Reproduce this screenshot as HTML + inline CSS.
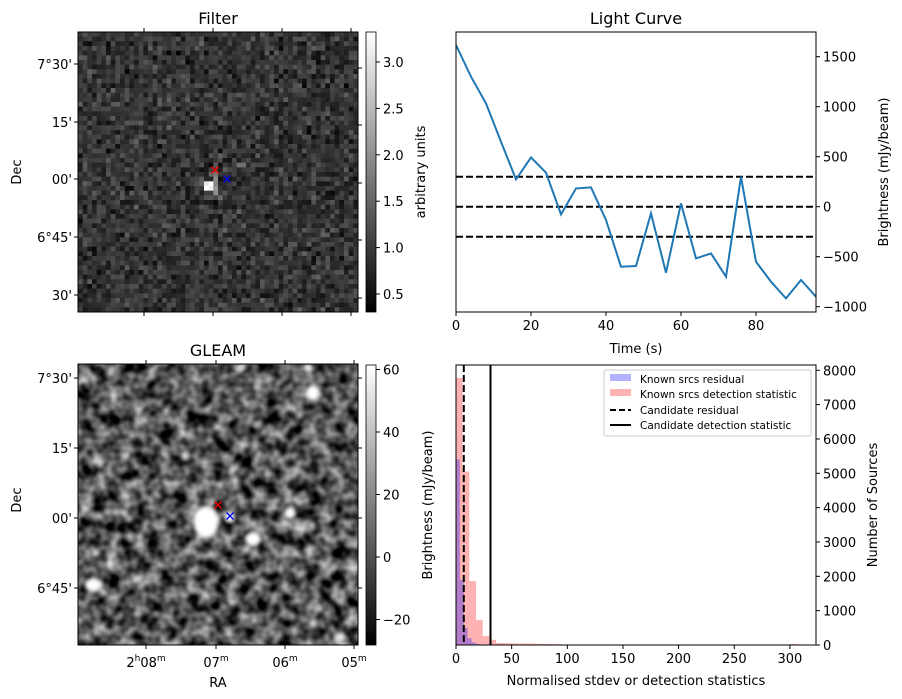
<!DOCTYPE html>
<html><head><meta charset="utf-8"><style>
body{margin:0;background:#fff;}
svg{display:block;font-family:"DejaVu Sans","Liberation Sans",sans-serif;}
</style></head><body>
<svg id="fig" width="902" height="699" viewBox="0 0 902 699" xmlns="http://www.w3.org/2000/svg">
<defs>
<linearGradient id="cbg" x1="0" y1="1" x2="0" y2="0"><stop offset="0" stop-color="#000"/><stop offset="1" stop-color="#fff"/></linearGradient>
<filter id="turb" x="0" y="0" width="100%" height="100%" color-interpolation-filters="sRGB">
<feTurbulence type="fractalNoise" baseFrequency="0.075" numOctaves="2" seed="7"/>
<feColorMatrix type="matrix" values="1.35 0 0 0 -0.34  1.35 0 0 0 -0.34  1.35 0 0 0 -0.34  0 0 0 0 1"/>
</filter>
<filter id="blur2"><feGaussianBlur stdDeviation="2.2"/></filter>
<clipPath id="gclip"><rect x="78" y="364" width="280" height="281"/></clipPath>
</defs>

<!-- Filter panel -->
<text x="218" y="24" font-size="16" text-anchor="middle">Filter</text>
<g id="filterImg"></g>
<rect x="78" y="32" width="280" height="280" fill="none" stroke="#000" stroke-width="1"/>
<g id="filterTicks" font-size="13"></g>
<text transform="translate(21,172) rotate(-90)" font-size="13" text-anchor="middle">Dec</text>
<rect x="366" y="32" width="10" height="280" fill="url(#cbg)" stroke="#000" stroke-width="0.8"/>
<g id="cb1" font-size="13"></g>
<text transform="translate(425,172) rotate(-90)" font-size="13" text-anchor="middle">arbitrary units</text>

<!-- GLEAM panel -->
<text x="218" y="356" font-size="16" text-anchor="middle">GLEAM</text>
<g clip-path="url(#gclip)">
<rect x="78" y="364" width="280" height="281" fill="#444"/>
<rect x="78" y="364" width="280" height="281" filter="url(#turb)"/>
<g filter="url(#blur2)" fill="#fff">
<ellipse cx="206" cy="522" rx="13" ry="16"/>
<ellipse cx="253" cy="539" rx="8" ry="7"/>
<ellipse cx="313" cy="393" rx="7" ry="8"/>
<ellipse cx="93" cy="585" rx="8" ry="7"/>
<ellipse cx="290" cy="513" rx="6" ry="6"/>
<ellipse cx="230" cy="517" rx="5" ry="5"/>
<ellipse cx="185" cy="456" rx="4" ry="5" opacity="0.8"/>
<ellipse cx="100" cy="462" rx="4" ry="5" opacity="0.7"/>
<ellipse cx="220" cy="485" rx="4" ry="4" opacity="0.7"/>
<ellipse cx="340" cy="637" rx="6" ry="5" opacity="0.9"/>
<ellipse cx="312" cy="525" rx="4" ry="4" opacity="0.7"/>
<ellipse cx="240" cy="368" rx="5" ry="4" opacity="0.8"/>
<ellipse cx="308" cy="368" rx="5" ry="4" opacity="0.9"/>
</g>
</g>
<rect x="78" y="364" width="280" height="281" fill="none" stroke="#000" stroke-width="1"/>
<g id="gleamTicks" font-size="13"></g>
<text transform="translate(21,500) rotate(-90)" font-size="13" text-anchor="middle">Dec</text>
<text x="218" y="687" font-size="13" text-anchor="middle">RA</text>
<rect x="366" y="365" width="10" height="280" fill="url(#cbg)" stroke="#000" stroke-width="0.8"/>
<g id="cb2" font-size="13"></g>
<text transform="translate(432,505) rotate(-90)" font-size="13" text-anchor="middle">Brightness (mJy/beam)</text>

<!-- Light curve -->
<text x="636" y="24" font-size="16" text-anchor="middle">Light Curve</text>
<g id="lc"></g>
<rect x="456" y="32" width="360" height="280" fill="none" stroke="#000" stroke-width="1"/>
<text x="636" y="353" font-size="13" text-anchor="middle">Time (s)</text>
<text transform="translate(888,172) rotate(-90)" font-size="13" text-anchor="middle">Brightness (mJy/beam)</text>

<!-- Histogram -->
<g id="hist"></g>
<rect x="456" y="365" width="360" height="280" fill="none" stroke="#000" stroke-width="1"/>
<text x="636" y="685" font-size="13" text-anchor="middle">Normalised stdev or detection statistics</text>
<text transform="translate(877,505) rotate(-90)" font-size="13" text-anchor="middle">Number of Sources</text>
<g font-size="10.5">
<rect x="604" y="370" width="207" height="66" rx="2" fill="#fff" fill-opacity="0.8" stroke="#ccc"/>
<rect x="610" y="374" width="21" height="7" fill="#0000ff" fill-opacity="0.3"/>
<text x="640" y="383">Known srcs residual</text>
<rect x="610" y="389" width="21" height="7" fill="#ff0000" fill-opacity="0.3"/>
<text x="640" y="398">Known srcs detection statistic</text>
<line x1="610" y1="410" x2="631" y2="410" stroke="#000" stroke-width="2" stroke-dasharray="6,3"/>
<text x="640" y="414">Candidate residual</text>
<line x1="610" y1="425" x2="631" y2="425" stroke="#000" stroke-width="2"/>
<text x="640" y="429">Candidate detection statistic</text>
</g>
</svg>
<script>
// ---- Light curve data ----
const lcTimes = [0,4,8,12,16,20,24,28,32,36,40,44,48,52,56,60,64,68,72,76,80,84,88,92,96];
const lcValues = [1617,1300,1033,650,273,493,340,-77,183,193,-133,-600,-593,-67,-660,33,-517,-467,-700,300,-550,-750,-917,-733,-900];
const lcThresholds = [300,0,-300];
const lcXTicks = [0,20,40,60,80];
const lcYTicks = [-1000,-500,0,500,1000,1500];
// ---- Histogram data ----
const redBinWidth = 6;
const redCounts = [7780,5050,1860,730,260,150,60,50,50,45,40,40,35,30,25,20];
const redTailX = [300,306];
const redTailCounts = [30];
const blueBinWidth = 3.5;
const blueCounts = [5400,1900,500,200,80,30,10];
const candidateResidual = 7;
const candidateDetection = 31;
const histXTicks = [0,50,100,150,200,250,300];
const histYTicks = [0,1000,2000,3000,4000,5000,6000,7000,8000];
// ---- Colorbar ticks ----
const cb1Ticks = [0.5,1.0,1.5,2.0,2.5,3.0];
const cb2Ticks = [-20,0,20,40,60];

const NS='http://www.w3.org/2000/svg';
function mk(tag,attrs,parent){const e=document.createElementNS(NS,tag);for(const k in attrs)e.setAttribute(k,attrs[k]);parent.appendChild(e);return e;}

// light curve scales
const lcX=t=>456+t*3.75, lcY=v=>206.7-v*0.1;
const lc=document.getElementById('lc');
lcThresholds.forEach((v,i)=>{const l=mk('line',{x1:456,x2:816,y1:lcY(v),y2:lcY(v),stroke:'#000','stroke-width':2,'stroke-dasharray':'7,3'},lc);

});
const pl=mk('polyline',{points:lcTimes.map((t,i)=>lcX(t)+','+lcY(lcValues[i])).join(' '),fill:'none',stroke:'#1f77b4','stroke-width':2},lc);


lcXTicks.forEach(t=>{mk('line',{x1:lcX(t),x2:lcX(t),y1:312,y2:316,stroke:'#000'},lc);
const tx=mk('text',{x:lcX(t),y:330,'font-size':13,'text-anchor':'middle'},lc);tx.textContent=t;

});
lcYTicks.forEach(v=>{mk('line',{x1:816,x2:820,y1:lcY(v),y2:lcY(v),stroke:'#000'},lc);
const tx=mk('text',{x:823,y:lcY(v)+5,'font-size':13},lc);tx.textContent=v<0?'\u2212'+(-v):v;

});

// histogram scales
const hX=v=>456+v*1.113, hY=c=>645-c*0.03434;
const h=document.getElementById('hist');
redCounts.forEach((c,i)=>{const r=mk('rect',{x:hX(i*redBinWidth),y:hY(c),width:redBinWidth*1.113,height:645-hY(c),fill:'#ff0000','fill-opacity':0.3},h);

});
redTailCounts.forEach((c,i)=>{const r=mk('rect',{x:hX(redTailX[i]),y:hY(c),width:(redTailX[i+1]-redTailX[i])*1.113,height:645-hY(c),fill:'#ff0000','fill-opacity':0.3},h);

});
blueCounts.forEach((c,i)=>{const r=mk('rect',{x:hX(i*blueBinWidth),y:hY(c),width:blueBinWidth*1.113,height:645-hY(c),fill:'#0000ff','fill-opacity':0.3},h);

});
let cl=mk('line',{x1:hX(candidateResidual),x2:hX(candidateResidual),y1:365,y2:645,stroke:'#000','stroke-width':2,'stroke-dasharray':'7,3'},h);


cl=mk('line',{x1:hX(candidateDetection),x2:hX(candidateDetection),y1:365,y2:645,stroke:'#000','stroke-width':2},h);


histXTicks.forEach(t=>{mk('line',{x1:hX(t),x2:hX(t),y1:645,y2:649,stroke:'#000'},h);
const tx=mk('text',{x:hX(t),y:663,'font-size':13,'text-anchor':'middle'},h);tx.textContent=t;

});
histYTicks.forEach(v=>{mk('line',{x1:816,x2:820,y1:hY(v),y2:hY(v),stroke:'#000'},h);
const tx=mk('text',{x:823,y:hY(v)+5,'font-size':13},h);tx.textContent=v;

});

// colorbars
function cbar(id,ticks,y0,slope,v0){const g=document.getElementById(id);
ticks.forEach(v=>{const y=y0-(v-v0)*slope;mk('line',{x1:376,x2:380,y1:y,y2:y,stroke:'#000'},g);
const tx=mk('text',{x:383,y:y+5},g);tx.textContent=(v<0?'\u2212'+(-v):(Number.isInteger(v)&&id==='cb1'?v.toFixed(1):v));

});}
cbar('cb1',cb1Ticks,294,92.8,0.5);
cbar('cb2',cb2Ticks,557,3.125,0);

// filter image texture (seeded)
let s=12345;function rnd(){s=(s*1103515245+12345)&0x7fffffff;return s/0x7fffffff;}
const fi=document.getElementById('filterImg');const n=60,cs=280/n;
const bright={'27,32':3.0,'28,32':3.3,'27,33':3.3,'28,33':3.1,'29,32':1.8,'29,31':1.9,'29,30':1.6,'29,33':2.0,'29,34':1.9,'30,35':1.5,'31,29':1.3,'34,28':1.6,'35,28':1.5,'28,30':1.4,'26,31':1.3};
for(let r=0;r<n;r++)for(let c=0;c<n;c++){
 let v=0.8+(rnd()+rnd()+rnd()-1.5)*0.45;const b=bright[c+','+r];if(b)v=b;
 let g=Math.round(Math.max(0,Math.min(1,(v-0.15)/3.15))*255);
 mk('rect',{x:78+c*cs,y:32+r*cs,width:cs+0.4,height:cs+0.4,fill:`rgb(${g},${g},${g})`},fi);}
// markers
function xm(x,y,col){const g=mk('g',{stroke:col,'stroke-width':1.3},document.getElementById('fig'));
mk('line',{x1:x-3.5,y1:y-3.5,x2:x+3.5,y2:y+3.5},g);mk('line',{x1:x-3.5,y1:y+3.5,x2:x+3.5,y2:y-3.5},g);return g;}
let m=xm(215,170,'#f00');
m=xm(227,179,'#00f');
m=xm(218,505,'#f00');
m=xm(230,516,'#00f');

// image axis ticks
function imgTicks(id,ys,ylabels,xs,top,bot,xlabels,rys){const g=document.getElementById(id);
ys.forEach((y,i)=>{mk('line',{x1:74,x2:78,y1:y,y2:y,stroke:'#000'},g);
const tx=mk('text',{x:72,y:y+5,'text-anchor':'end'},g);tx.textContent=ylabels[i];

});
rys.forEach(y=>mk('line',{x1:358,x2:362,y1:y,y2:y,stroke:'#000'},g));
xs.forEach((x,i)=>{mk('line',{x1:x,x2:x,y1:top-4,y2:top,stroke:'#000'},g);mk('line',{x1:x,x2:x,y1:bot,y2:bot+4,stroke:'#000'},g);
if(xlabels){const tx=mk('text',{x:x,y:bot+22,'text-anchor':'middle'},g);
tx.innerHTML=xlabels[i];

}});}
imgTicks('filterTicks',[64,122,179,237,295],["7°30'","15'","00'","6°45'","30'"],[144,213,282,351],32,312,null,[68,125,183,240,298]);
imgTicks('gleamTicks',[378,448,518,588],["7°30'","15'","00'","6°45'"],[146,216,285,354],364,645,
['2<tspan font-size="9" dy="-6">h</tspan><tspan dy="6">08</tspan><tspan font-size="9" dy="-6">m</tspan>','07<tspan font-size="9" dy="-6">m</tspan>','06<tspan font-size="9" dy="-6">m</tspan>','05<tspan font-size="9" dy="-6">m</tspan>'],[378,448,518,588]);
</script>
</body></html>
